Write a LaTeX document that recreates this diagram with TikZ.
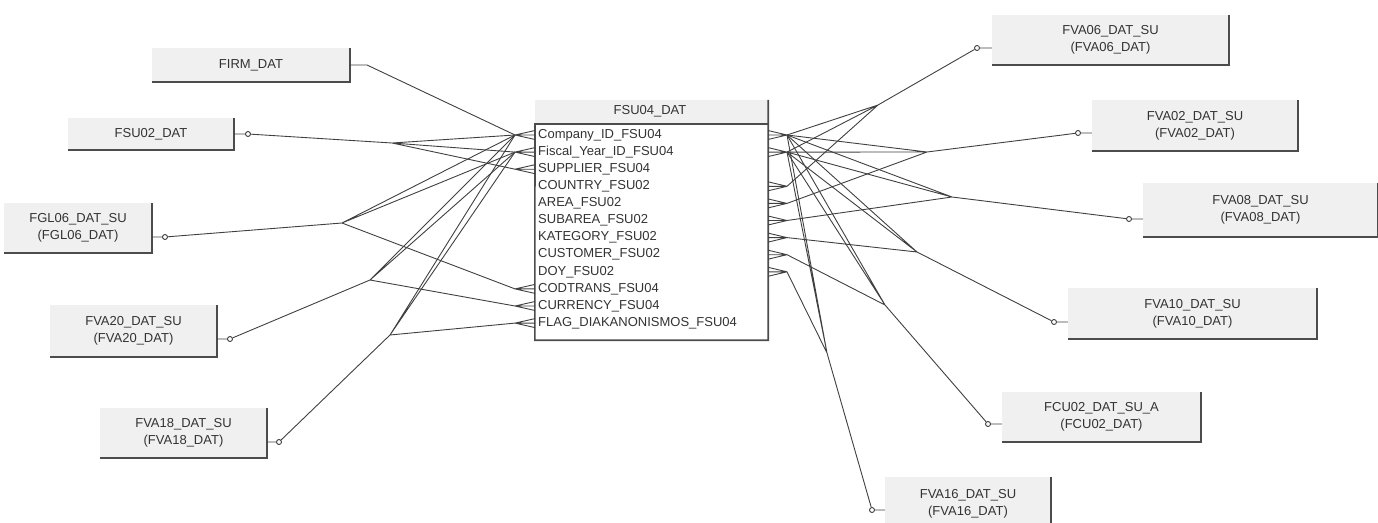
\documentclass[tikz,border=0pt]{standalone}
\usepackage{fontspec}
\setmainfont{Liberation Sans}
\begin{document}
\begin{tikzpicture}[x=1pt, y=-1pt,
  ent/.style={fill=black!6, inner sep=0pt, align=center, font=\fontsize{13}{17}\selectfont, text=black!80},
  col/.style={anchor=west, inner sep=0pt, font=\fontsize{13}{17}\selectfont, text=black!80},
  edge/.style={draw=black!70, line width=1.6pt},
  rel/.style={draw=black!75, line width=0.9pt},
  oc/.style={circle, draw=black!75, line width=0.9pt, fill=white, inner sep=0pt, minimum size=5pt}]
\useasboundingbox (0,0) rectangle (1378,522);
\clip (0,0) rectangle (1378,522);
% entities
\node[ent, minimum width=198pt, minimum height=34pt] (firm) at (251,65) {FIRM\_DAT};
\node[ent, minimum width=166pt, minimum height=32pt] (fsu02) at (151,134) {FSU02\_DAT};
\node[ent, minimum width=148pt, minimum height=50pt] (fgl06) at (78,228) {FGL06\_DAT\_SU\\(FGL06\_DAT)};
\node[ent, minimum width=167pt, minimum height=52pt] (fva20) at (133.5,331) {FVA20\_DAT\_SU\\(FVA20\_DAT)};
\node[ent, minimum width=167pt, minimum height=50pt] (fva18) at (183.5,433) {FVA18\_DAT\_SU\\(FVA18\_DAT)};
\node[ent, minimum width=237pt, minimum height=50pt] (fva06) at (1110.5,40) {FVA06\_DAT\_SU\\(FVA06\_DAT)};
\node[ent, minimum width=206pt, minimum height=51pt] (fva02) at (1195,125.5) {FVA02\_DAT\_SU\\(FVA02\_DAT)};
\node[ent, minimum width=235pt, minimum height=54pt] (fva08) at (1260.5,210) {FVA08\_DAT\_SU\\(FVA08\_DAT)};
\node[ent, minimum width=249pt, minimum height=51pt] (fva10) at (1192.5,313.5) {FVA10\_DAT\_SU\\(FVA10\_DAT)};
\node[ent, minimum width=199pt, minimum height=50pt] (fcu02) at (1101.5,417) {FCU02\_DAT\_SU\_A\\(FCU02\_DAT)};
\node[ent, minimum width=166pt, minimum height=53pt] (fva16) at (968,503.5) {FVA16\_DAT\_SU\\(FVA16\_DAT)};
\foreach \e in {firm,fsu02,fgl06,fva20,fva18,fva06,fva02,fva08,fva10,fcu02,fva16}
  \draw[edge] (\e.north east) -- (\e.south east) -- (\e.south west);
% main table
\node[ent, minimum width=233pt, minimum height=240pt] (tbl) at (651.5,220) {};
\coordinate (hdr) at (535,124);
\fill[white] (hdr) rectangle (tbl.south east);
\node[col, anchor=center] (title) at (650,111) {FSU04\_DAT};
\draw[edge] (tbl.north east) -- (tbl.south east) -- (tbl.south west) -- (hdr) -- (tbl.east |- hdr);
\foreach \t [count=\i] in {Company\_ID\_FSU04, Fiscal\_Year\_ID\_FSU04, SUPPLIER\_FSU04,
    COUNTRY\_FSU02, AREA\_FSU02, SUBAREA\_FSU02, KATEGORY\_FSU02, CUSTOMER\_FSU02,
    DOY\_FSU02, CODTRANS\_FSU04, CURRENCY\_FSU04, FLAG\_DIAKANONISMOS\_FSU04} {
  \node[col] (row\i) at (538,117.9+17.1*\i) {\t};
  \coordinate (lt\i) at (515,117.9+17.1*\i);
  \coordinate (rt\i) at (787,117.9+17.1*\i);
}
% crow's feet
\foreach \i in {1,2,3,10,11,12}
  \draw[rel] (lt\i) -- ++(20,-4.5) (lt\i) -- ++(20,0) (lt\i) -- ++(20,4.5);
\foreach \i in {1,2,4,5,6,7,8,9}
  \draw[rel] (rt\i) -- ++(-19,-4.5) (rt\i) -- ++(-19,0) (rt\i) -- ++(-19,4.5);
% branch points
\coordinate (b1) at (392,143);
\coordinate (b2) at (342,223);
\coordinate (b3) at (370,280);
\coordinate (b4) at (390,335);
\coordinate (c1) at (878,105);
\coordinate (c2) at (927,152);
\coordinate (c3) at (952,197);
\coordinate (c4) at (917,252);
\coordinate (c5) at (885,305);
\coordinate (c6) at (827,353);
% optional ends
\foreach \e/\x/\y in {fsu02/248/134, fgl06/165/237, fva20/230/339, fva18/279/442,
    fva06/977/48, fva02/1078/133, fva08/1129/219, fva10/1054/322, fcu02/988/424, fva16/872/510}
  \node[oc] (o\e) at (\x,\y) {};
\coordinate (ofirm) at (367,65);
\draw[rel] (firm.east |- ofirm) -- (ofirm) -- (lt1);
\foreach \e/\b/\k in {fsu02/b1/3, fgl06/b2/10, fva20/b3/11, fva18/b4/12}
  \draw[rel] (\e.east |- o\e) -- (o\e) -- (\b) -- (lt1) (\b) -- (lt2) (\b) -- (lt\k);
\foreach \e/\b/\k in {fva06/c1/4, fva02/c2/5, fva08/c3/6, fva10/c4/7, fcu02/c5/8, fva16/c6/9}
  \draw[rel] (\e.west |- o\e) -- (o\e) -- (\b) -- (rt1) (\b) -- (rt2) (\b) -- (rt\k);
\end{tikzpicture}
\end{document}
